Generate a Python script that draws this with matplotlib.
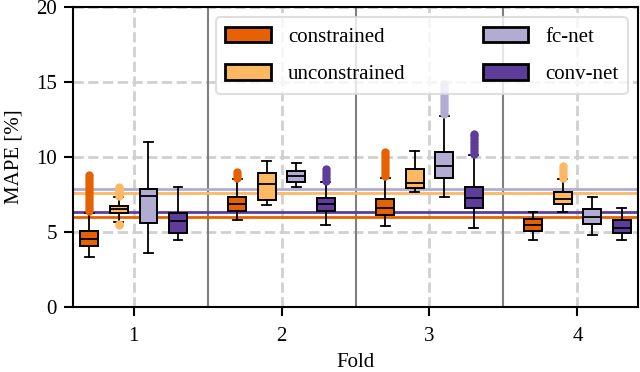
import numpy as np
import matplotlib.pyplot as plt
import matplotlib as mpl
from matplotlib.patches import Patch

mpl.rcParams['font.family'] = 'serif'
mpl.rcParams['font.serif'] = ['Liberation Serif', 'DejaVu Serif']
mpl.rcParams['font.size'] = 15

folds = [1, 2, 3, 4]
models = ["constrained", "unconstrained", "fc-net", "conv-net"]
colors = ["#e66101", "#fdb863", "#b2abd2", "#5e3c99"]

# mean MAPE per model (horizontal lines)
means = [6.0, 7.62, 7.87, 6.33]

# box stats per model, per fold: (whislo, q1, med, q3, whishi)
stats = {
    "constrained":   [(3.31, 4.07, 4.51, 5.05, 6.29), (5.80, 6.42, 6.87, 7.31, 8.53),
                      (5.40, 6.16, 6.62, 7.18, 8.60), (4.47, 5.09, 5.47, 5.84, 6.31)],
    "unconstrained": [(5.69, 6.24, 6.51, 6.73, 7.31), (6.80, 7.13, 8.18, 8.91, 9.71),
                      (7.69, 7.91, 8.29, 9.20, 10.42), (6.33, 6.87, 7.22, 7.64, 8.53)],
    "fc-net":        [(3.58, 5.58, 7.42, 7.89, 11.02), (8.00, 8.36, 8.71, 9.09, 9.60),
                      (7.36, 8.58, 9.42, 10.31, 12.76), (4.80, 5.53, 6.02, 6.51, 7.36)],
    "conv-net":      [(4.47, 4.91, 5.71, 6.29, 8.00), (5.45, 6.42, 6.87, 7.27, 8.31),
                      (5.24, 6.58, 7.27, 8.02, 10.11), (4.47, 4.95, 5.27, 5.78, 6.58)],
}

# outliers per model, per fold
fliers = {
    "constrained":   [[6.4, 6.6, 6.8, 7.0, 7.2, 7.4, 7.6, 7.8, 8.0, 8.2, 8.4, 8.6, 8.8],
                      [8.6, 8.8, 9.0],
                      [8.7, 8.9, 9.1, 9.3, 9.5, 9.7, 9.9, 10.1, 10.3],
                      []],
    "unconstrained": [[5.47, 5.55, 7.4, 7.5, 7.6, 7.7, 7.8, 7.9, 8.0],
                      [],
                      [],
                      [8.6, 8.8, 9.0, 9.2, 9.4]],
    "fc-net":        [[],
                      [],
                      [12.9, 13.1, 13.3, 13.5, 13.7, 13.9, 14.1, 14.3, 14.5, 14.7, 14.9],
                      []],
    "conv-net":      [[],
                      [8.4, 8.6, 8.8, 9.0, 9.2],
                      [10.2, 10.4, 10.6, 10.8, 11.0, 11.2, 11.4, 11.5],
                      []],
}

offsets = [-0.3, -0.1, 0.1, 0.3]
width = 0.12

fig, ax = plt.subplots(figsize=(6.4, 3.72), dpi=100)
fig.subplots_adjust(left=0.114, right=0.997, bottom=0.175, top=0.981)

for m, model in enumerate(models):
    ax.axhline(means[m], color=colors[m], lw=2, zorder=2)

for m, model in enumerate(models):
    bstats = []
    for f in range(len(folds)):
        lo, q1, med, q3, hi = stats[model][f]
        bstats.append(dict(whislo=lo, q1=q1, med=med, q3=q3, whishi=hi,
                           fliers=fliers[model][f]))
    pos = [folds[f] + offsets[m] for f in range(len(folds))]
    ax.bxp(bstats, positions=pos, widths=width, patch_artist=True,
           boxprops=dict(facecolor=colors[m], edgecolor='black', linewidth=1.4),
           medianprops=dict(color='black', linewidth=1.3),
           whiskerprops=dict(color='black', linewidth=1.3),
           capprops=dict(color='black', linewidth=1.3),
           flierprops=dict(marker='o', markerfacecolor=colors[m], markeredgecolor='none',
                           markersize=6),
           manage_ticks=False, zorder=3)

for x in [1.5, 2.5, 3.5]:
    ax.axvline(x, color='#808080', lw=1.5, zorder=1)

ax.set_xlim(0.59, 4.41)
ax.set_ylim(0, 20)
ax.set_xticks(folds)
ax.set_yticks([0, 5, 10, 15, 20])
ax.grid(True, linestyle='--', color='#d0d0d0', lw=2, zorder=0)
ax.set_axisbelow(True)
ax.tick_params(direction='out', length=6.5, width=1.5, pad=5)
ax.tick_params(axis='x', pad=8)
for s in ax.spines.values():
    s.set_linewidth(1.5)

ax.set_xlabel("Fold", labelpad=5)
ax.set_ylabel("MAPE [%]", labelpad=9)

handles = [Patch(facecolor=c, edgecolor='black', linewidth=2) for c in colors]
leg = ax.legend(handles, models, loc='upper right', ncol=2, handlelength=2.2,
                handleheight=0.75, handletextpad=0.8, columnspacing=3.7,
                framealpha=0.8, edgecolor='#d8d8d8', borderpad=0.45,
                labelspacing=0.85, borderaxespad=0.5)
leg.get_frame().set_linewidth(1.5)
leg.set_zorder(5)

fig.savefig("out.png", dpi=100)
